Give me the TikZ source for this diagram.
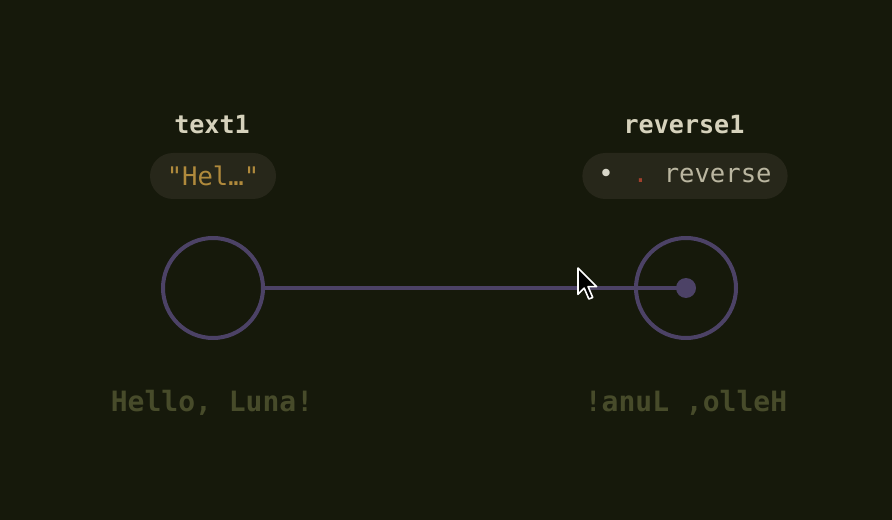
\documentclass[tikz,border=0pt]{standalone}
\usepackage{fontspec}
\setmonofont{DejaVu Sans Mono}
\usepackage{tikz}

\definecolor{bgcol}{HTML}{16190B}
\definecolor{wire}{HTML}{4C4266}
\definecolor{labelcol}{HTML}{D6D2BC}
\definecolor{pillcol}{HTML}{27271A}
\definecolor{strcol}{HTML}{B08A3C}
\definecolor{outcol}{HTML}{474B2A}
\definecolor{opcol}{HTML}{BAB6A0}
\definecolor{dotwhite}{HTML}{D8D6C8}
\definecolor{dotred}{HTML}{A0402C}

\tikzset{
  title/.style={font=\ttfamily\bfseries\fontsize{18.8}{22}\selectfont, text=labelcol},
  pill/.style={fill=pillcol, rounded corners=23*0.75pt, minimum height=46*0.75pt,
    inner xsep=12pt, font=\ttfamily\fontsize{19.2}{22}\selectfont},
  port/.style={circle, draw=wire, line width=3pt, minimum size=100*0.75pt, inner sep=0pt},
  result/.style={font=\ttfamily\bfseries\fontsize{21}{24}\selectfont, text=outcol}
}

\begin{document}
\begin{tikzpicture}[x=0.75pt, y=-0.75pt]

    \fill[bgcol] (0,0) rectangle (892,520);
    \useasboundingbox (0,0) rectangle (892,520);

    % nodo texto
    \node[title] (t1) at (212,125) {text1};
    \node[pill, text=strcol, minimum width=126*0.75pt] (t1val) at (213,176) {"Hel…"};
    \node[port] (t1port) at (213,288) {};
    \node[result] (t1out) at (212,403) {Hello, Luna!};

    % nodo reverse
    \node[title] (r1) at (684,125) {reverse1};
    \node[pill, text=opcol, minimum width=203*0.75pt] (r1val) at (685,176)
      {\textcolor{dotwhite}{•}\hspace{0.75em}\textcolor{dotred}{.}\hspace{0.6em}reverse};
    \node[port] (r1port) at (686,288) {};
    \node[circle, fill=wire, minimum size=20*0.75pt, inner sep=0pt] (r1dot) at (686,288) {};
    \node[result] (r1out) at (686,403) {!anuL ,olleH};

    % conexion
    \draw[wire, line width=3pt] (t1port.east) -- (r1dot.center);

    % cursor
    \coordinate (tip) at (578,268);
    \draw[fill=black, draw=white, line width=1.2pt, line join=round, shift={(tip)}, scale=1.55]
      (0,0) -- (0,17) -- (4,13) -- (7,20) -- (9.5,19) -- (6.5,12) -- (12,12) -- cycle;

\end{tikzpicture}
\end{document}
